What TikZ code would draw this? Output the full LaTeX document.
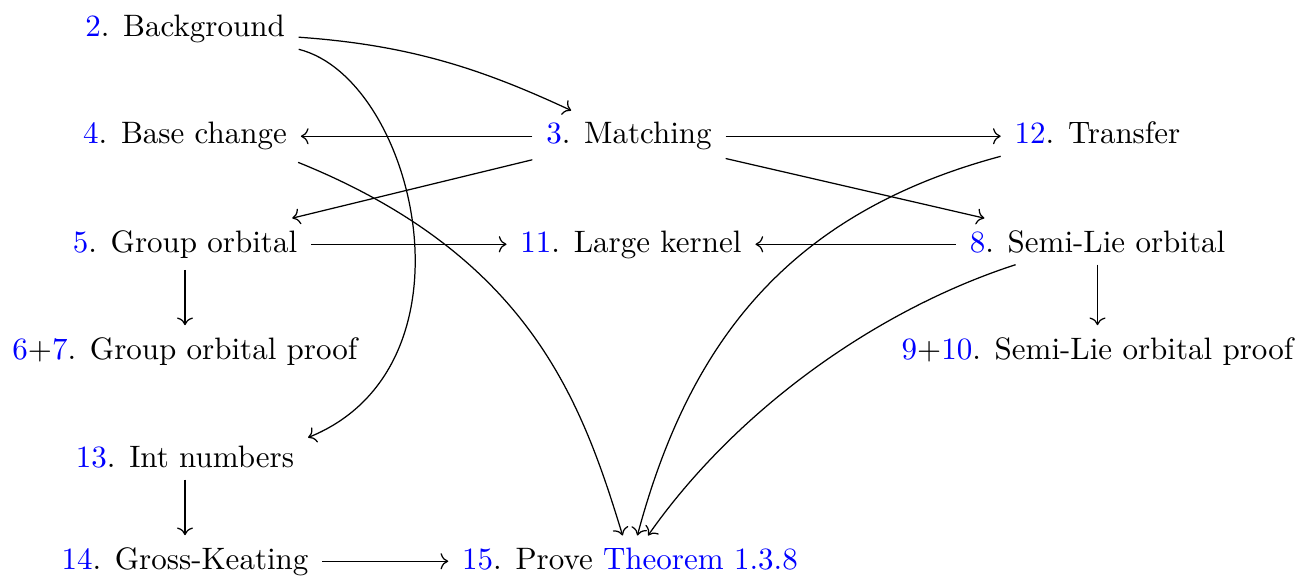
\documentclass[tikz,border=0pt]{standalone}
\usetikzlibrary{cd}
\begin{document}
\begin{tikzpicture}[x=0.32258pt,y=0.32258pt,
  cell/.style={shape=asymmetrical rectangle,inner xsep=1ex,inner ysep=0.85ex,anchor=base},
  arr/.style={->,>={cm to},line width=0.4pt}]
\useasboundingbox (0,0) rectangle (1316,-579);
\newcommand{\lk}[1]{\textcolor{blue}{#1}}
\node[cell] (bg) at (185,-37) {\lk{2}. Background};
\node[cell] (base) at (185,-144) {\lk{4}. Base change};
\node[cell] (match) at (629,-144) {\lk{3}. Matching};
\node[cell] (transfer) at (1097.5,-144) {\lk{12}. Transfer};
\node[cell] (group) at (185,-252) {\lk{5}. Group orbital};
\node[cell] (lkern) at (631,-252) {\lk{11}. Large kernel};
\node[cell] (semi) at (1097.5,-252) {\lk{8}. Semi-Lie orbital};
\node[cell] (gop) at (185,-359) {\lk{6}+\lk{7}. Group orbital proof};
\node[cell] (sop) at (1097.5,-359) {\lk{9}+\lk{10}. Semi-Lie orbital proof};
\node[cell] (int) at (185,-467) {\lk{13}. Int numbers};
\node[cell] (gk) at (185,-569) {\lk{14}. Gross-Keating};
\node[cell] (prove) at (630,-569) {\lk{15}. Prove \lk{Theorem 1.3.8}};
% straight arrows
\draw[arr] (match) -- (base);
\draw[arr] (match) -- (transfer);
\draw[arr] (match) -- (group);
\draw[arr] (match) -- (semi);
\draw[arr] (group) -- (lkern);
\draw[arr] (semi) -- (lkern);
\draw[arr] (group) -- (gop);
\draw[arr] (semi) -- (sop);
\draw[arr] (int) -- (gk);
\draw[arr] (gk) -- (prove);
% curved arrows
\draw[arr] (bg.-4) .. controls +(-4:110) and +(155:100) .. (match.156);
\draw[arr] (bg.-10) .. controls +(-14:120) and +(22:190) .. (int.10);
\draw[arr] (base.-13) .. controls +(-22:250) and +(107:140) .. (prove.106);
\draw[arr] (transfer.south west) .. controls +(195:220) and +(75:200) .. (prove.74);
\draw[arr] (semi.-166) .. controls +(198:150) and +(55:150) .. (prove.55);
\end{tikzpicture}
\end{document}
